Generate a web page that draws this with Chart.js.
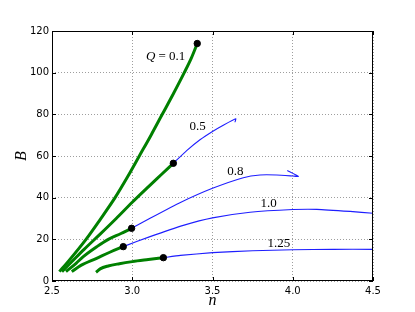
<!DOCTYPE html>
<html>
<head>
<meta charset="utf-8">
<script src="https://cdn.jsdelivr.net/npm/chart.js@4/dist/chart.umd.min.js"></script>
<style>
  body { margin: 0; background: #fff; }
  #wrap { width: 415px; height: 312px; }
</style>
</head>
<body>
<div id="wrap"><canvas id="myChart" width="415" height="312"></canvas></div>
<script>
// curves: [n, B]; green = stable part, blue = rest
let q01Green = [[2.546,4.5],[2.6,9.3],[2.712,20],[2.8,29.5],[2.893,40],[2.971,50],[3.044,60],[3.117,70],[3.187,80],[3.257,90],[3.324,100],[3.368,107],[3.405,114]];
let q05Green = [[2.562,4.5],[2.62,9],[2.7,15.2],[2.8,22.5],[2.9,30],[3.0,37.8],[3.1,45.2],[3.18,51],[3.256,56.5]];
let q05Blue = [[3.256,56.5],[3.339,62.6],[3.422,67.8],[3.5,71.8],[3.567,74.8],[3.645,77.9],[3.64,76.2]];
let q08Green = [[2.587,4.5],[2.65,8.5],[2.695,11.7],[2.78,16.5],[2.851,20],[2.93,22.8],[2.996,25.3]];
let q08Blue = [[2.996,25.3],[3.111,30.1],[3.3,37.7],[3.5,44.5],[3.692,49.6],[3.796,50.9],[3.9,50.9],[4.0,50.4],[4.035,50.2],[3.966,53]];
let q10Green = [[2.623,4.5],[2.68,7.5],[2.778,10.9],[2.86,13.8],[2.944,16.5]];
let q10Blue = [[2.944,16.5],[3.111,21.3],[3.318,26.7],[3.5,30.3],[3.734,33],[4.0,34.3],[4.15,34.4],[4.357,33.4],[4.5,32.5]];
let q125Green = [[2.774,4.2],[2.8,5.8],[2.85,7.2],[2.92,8.3],[3.0,9.3],[3.1,10.3],[3.194,11.2]];
let q125Blue = [[3.194,11.2],[3.3,12.3],[3.5,13.6],[3.75,14.5],[4.0,15],[4.25,15.2],[4.5,15.2]];
let dots = [[3.405,114],[3.256,56.5],[2.996,25.3],[2.944,16.5],[3.194,11.2]];

let curveNames = ["0.1","0.5","0.8","1.0","1.25"];
let labelAt = [[3.208,107.7],[3.407,73.9],[3.643,52.3],[3.849,37.4],[3.914,17.8]];

let xTicks = [2.5,3.0,3.5,4.0,4.5];
let yTicks = [0,20,40,60,80,100,120];

function pts(arr){
    return arr.map(function(p){ return {x:p[0], y:p[1]}; });
}

function greenSet(arr){
    return {data: pts(arr), borderColor:"#008000", borderWidth:3, pointRadius:0, showLine:true,
            cubicInterpolationMode:"monotone", order:1};
}
function blueSet(arr){
    return {data: pts(arr), borderColor:"rgb(30,30,255)", borderWidth:1.1, pointRadius:0, showLine:true, tension:0.15, order:2};
}

// frame, inward ticks and curve labels
let decorPlugin = {
    id: "decor",
    afterDatasetsDraw: function(chart){
        let ctx = chart.ctx;
        let a = chart.chartArea;
        let xs = chart.scales.x, ys = chart.scales.y;
        ctx.save();
        ctx.strokeStyle = "#000";
        ctx.lineWidth = 1;
        ctx.strokeRect(a.left+0.5, a.top+0.5, a.right-a.left-1, a.bottom-a.top-1);
        ctx.beginPath();
        for (let i=0; i<xTicks.length; i++){
            let px = Math.round(xs.getPixelForValue(xTicks[i]))+0.5;
            ctx.moveTo(px, a.bottom); ctx.lineTo(px, a.bottom-4);
            ctx.moveTo(px, a.top); ctx.lineTo(px, a.top+4);
        }
        for (let i=0; i<yTicks.length; i++){
            let py = Math.round(ys.getPixelForValue(yTicks[i]))+0.5;
            ctx.moveTo(a.left, py); ctx.lineTo(a.left+4, py);
            ctx.moveTo(a.right, py); ctx.lineTo(a.right-4, py);
        }
        ctx.stroke();

        ctx.fillStyle = "#000";
        ctx.textBaseline = "middle";
        for (let i=0; i<curveNames.length; i++){
            let px = xs.getPixelForValue(labelAt[i][0]);
            let py = ys.getPixelForValue(labelAt[i][1]);
            if (i==0){
                ctx.font = "italic 13px 'Liberation Serif'";
                let q = "Q";
                let rest = " = " + curveNames[i];
                let w1 = ctx.measureText(q).width;
                ctx.font = "13px 'Liberation Serif'";
                let w2 = ctx.measureText(rest).width;
                let x0 = px - (w1+w2)/2;
                ctx.font = "italic 13px 'Liberation Serif'";
                ctx.textAlign = "left";
                ctx.fillText(q, x0, py);
                ctx.font = "13px 'Liberation Serif'";
                ctx.fillText(rest, x0+w1, py);
            } else {
                ctx.font = "13px 'Liberation Serif'";
                ctx.textAlign = "center";
                ctx.fillText(curveNames[i], px, py);
            }
        }
        ctx.restore();
    }
};

function generateChart(){
    let ctx = document.getElementById("myChart").getContext("2d");
    let datasets = [
        greenSet(q01Green),
        greenSet(q05Green), blueSet(q05Blue),
        greenSet(q08Green), blueSet(q08Blue),
        greenSet(q10Green), blueSet(q10Blue),
        greenSet(q125Green), blueSet(q125Blue),
        {data: pts(dots), backgroundColor:"#000", borderColor:"#000", pointRadius:3.2, showLine:false, order:0}
    ];
    let gridStyle = {color:"rgba(0,0,0,0.55)", lineWidth:0.7, drawTicks:false};
    let myChart = new Chart(ctx, {
        type: "scatter",
        data: {datasets: datasets},
        options: {
            responsive: false,
            animation: false,
            layout: {padding: {left:0, right:42, top:31, bottom:0}},
            plugins: {legend: {display:false}, tooltip: {enabled:false}},
            scales: {
                x: {
                    type: "linear", min: 2.5, max: 4.5,
                    afterBuildTicks: function(s){ s.ticks = xTicks.map(function(v){ return {value:v}; }); },
                    afterFit: function(s){ s.height = 31; },
                    ticks: {padding:4, color:"#000", font:{family:"DejaVu Sans", size:10},
                            callback: function(v){ return v.toFixed(1); }},
                    grid: gridStyle,
                    border: {display:false, dash:[1,2]},
                    title: {display:true, text:"n", color:"#000", padding:{top:0,bottom:2},
                            font:{family:"Liberation Serif", size:16, style:"italic"}}
                },
                y: {
                    type: "linear", min: 0, max: 120,
                    afterBuildTicks: function(s){ s.ticks = yTicks.map(function(v){ return {value:v}; }); },
                    afterFit: function(s){ s.width = 52; },
                    ticks: {padding:3, color:"#000", font:{family:"DejaVu Sans", size:10}},
                    grid: gridStyle,
                    border: {display:false, dash:[1,2]},
                    title: {display:true, text:"B", color:"#000", padding:{top:12,bottom:0},
                            font:{family:"Liberation Serif", size:16, style:"italic"}}
                }
            }
        },
        plugins: [decorPlugin]
    });
}

document.addEventListener('DOMContentLoaded', function() {
    generateChart();
});
</script>
</body>
</html>
